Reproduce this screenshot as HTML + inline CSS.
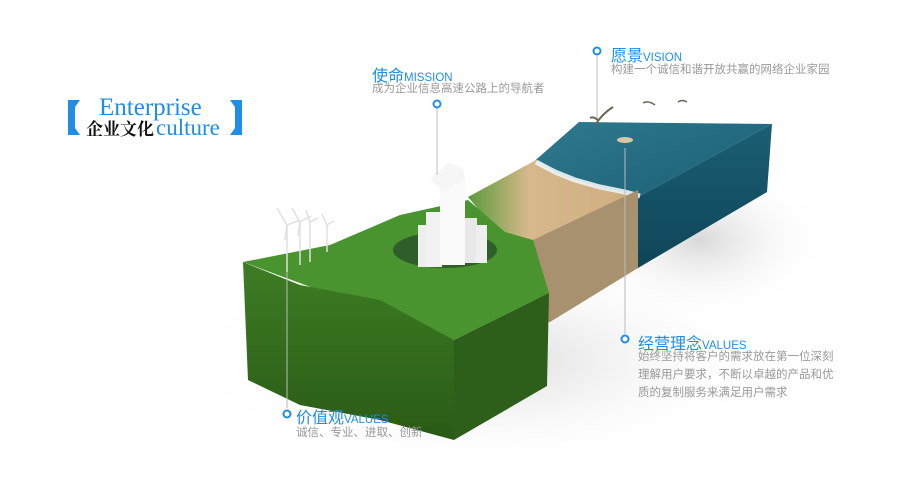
<!DOCTYPE html>
<html><head><meta charset="utf-8"><style>
body{margin:0;background:#fff;width:920px;height:490px;overflow:hidden;position:relative;font-family:"Liberation Sans","Noto Sans CJK SC",sans-serif}
.t{position:absolute;white-space:nowrap}
.h{color:#1e8ee6;font-size:16px}
.h small{font-size:11.5px}
.s{color:#999;font-size:11.5px;line-height:18px}
</style></head><body>
<svg width="920" height="490" style="position:absolute;left:0;top:0">
<defs>
<radialGradient id="sh" cx="0.5" cy="0.5" r="0.5"><stop offset="0" stop-color="#c8c8c8" stop-opacity=".7"/><stop offset="1" stop-color="#fff" stop-opacity="0"/></radialGradient>
<linearGradient id="gf" x1="0" y1="0" x2="0" y2="1"><stop offset="0" stop-color="#3d7d24"/><stop offset="1" stop-color="#2a5a16"/></linearGradient>
<linearGradient id="wt" x1="0" y1="0" x2="1" y2="1"><stop offset="0" stop-color="#2f7a90"/><stop offset="1" stop-color="#185a70"/></linearGradient>
<linearGradient id="ws" x1="0" y1="0" x2="0" y2="1"><stop offset="0" stop-color="#1b5f74"/><stop offset="1" stop-color="#0f4458"/></linearGradient>
<linearGradient id="sd" x1="0" y1="0" x2="1" y2="0"><stop offset="0" stop-color="#5a9a3a"/><stop offset=".35" stop-color="#d6b88c"/><stop offset="1" stop-color="#cfae80"/></linearGradient>
</defs>
<ellipse cx="480" cy="360" rx="300" ry="110" fill="url(#sh)"/>
<ellipse cx="700" cy="240" rx="130" ry="80" fill="url(#sh)"/>
<polygon points="638,197 772,124 767,192 638,268" fill="url(#ws)"/>
<polygon points="530,165 579,122 772,124 638,197 560,215" fill="url(#wt)"/>
<polygon points="468,197 536,160 560,175 600,188 640,196 536,247 500,235" fill="url(#sd)"/>
<polyline points="536,162 555,172 575,180 600,187 625,192 640,196" fill="none" stroke="#eef4f5" stroke-width="5" opacity=".9"/>
<polygon points="533,240 638,190 638,268 550,322 533,322" fill="#a8916f"/>
<polygon points="243,262 330,245 400,215 468,200 505,232 533,240 549,293 454,340" fill="#4a9430"/>
<polygon points="243,262 300,285 380,300 454,340 454,440 380,420 300,405 248,380" fill="url(#gf)"/>
<polygon points="454,340 549,293 547,386 454,440" fill="#2d5f1a"/>
<ellipse cx="445" cy="250" rx="52" ry="18" fill="#2f5e2a"/>
<rect x="418" y="225" width="14" height="42" fill="#eee"/>
<rect x="426" y="212" width="16" height="55" fill="#f2f2f2"/>
<rect x="465" y="218" width="12" height="45" fill="#e8e8e8"/>
<rect x="476" y="225" width="11" height="38" fill="#efefef"/>
<rect x="440" y="175" width="25" height="90" fill="#fafafa"/>
<polygon points="430,180 448,163 463,168 465,178 445,192" fill="#f6f6f6"/>
<g stroke="#e0e0e0" stroke-width="1.5" fill="none">
<line x1="287" y1="272" x2="287" y2="225"/><line x1="300" y1="265" x2="300" y2="222"/><line x1="310" y1="262" x2="310" y2="222"/><line x1="327" y1="252" x2="327" y2="225"/>
<path d="M287,225 L277,208 M287,225 L300,220 M287,225 L285,240"/>
<path d="M300,222 L292,208 M300,222 L311,216 M300,222 L298,236"/>
<path d="M310,222 L306,210 M310,222 L318,218"/>
<path d="M327,225 L322,214 M327,225 L334,221"/></g>
<path d="M595,125 q8,-12 18,-18 M598,120 q-5,-4 -8,-2" stroke="#665" stroke-width="2" fill="none"/>
<path d="M643,103 q5,-3 12,2" stroke="#665" stroke-width="1.5" fill="none"/>
<path d="M678,102 q4,-3 9,0" stroke="#665" stroke-width="1.5" fill="none"/>
<ellipse cx="625" cy="140" rx="8" ry="3" fill="#d8c8a8"/>
<g stroke="#bbb" stroke-width="1"><line x1="287" y1="272" x2="287" y2="408"/><line x1="437" y1="108" x2="437" y2="175"/><line x1="597" y1="56" x2="597" y2="118"/><line x1="625" y1="148" x2="625" y2="334"/></g>
<g fill="#fff" stroke="#1e8ee6" stroke-width="2"><circle cx="287" cy="414" r="3.5"/><circle cx="437" cy="104" r="3.5"/><circle cx="597" cy="51" r="3.5"/><circle cx="625" cy="339" r="3.5"/></g>
<polygon points="68,100 80,100 75,107 75,128 80,135 68,135" fill="#1e8ee6"/>
<polygon points="242,100 230,100 235,107 235,128 230,135 242,135" fill="#1e8ee6"/>
</svg>
<div class="t" style="left:99px;top:94px;font-family:'Liberation Serif',serif;font-size:25px;color:#1e8ee6">Enterprise</div>
<div class="t" style="left:86px;top:115px;font-family:'Liberation Serif','Noto Serif CJK SC',serif;font-size:17px;color:#111;font-weight:bold">企业文化<span style="color:#1e8ee6;font-weight:normal;font-size:23px;margin-left:2px">culture</span></div>
<div class="t h" style="left:372px;top:62px">使命<small>MISSION</small></div>
<div class="t s" style="left:372px;top:80px">成为企业信息高速公路上的导航者</div>
<div class="t h" style="left:611px;top:42px">愿景<small>VISION</small></div>
<div class="t s" style="left:611px;top:61px">构建一个诚信和谐开放共赢的网络企业家园</div>
<div class="t h" style="left:638px;top:330px">经营理念<small>VALUES</small></div>
<div class="t s" style="left:638px;top:348px">始终坚持将客户的需求放在第一位深刻<br>理解用户要求，不断以卓越的产品和优<br>质的复制服务来满足用户需求</div>
<div class="t h" style="left:296px;top:404px">价值观<small>VALUES</small></div>
<div class="t s" style="left:296px;top:424px">诚信、专业、进取、创新</div>
</body></html>
